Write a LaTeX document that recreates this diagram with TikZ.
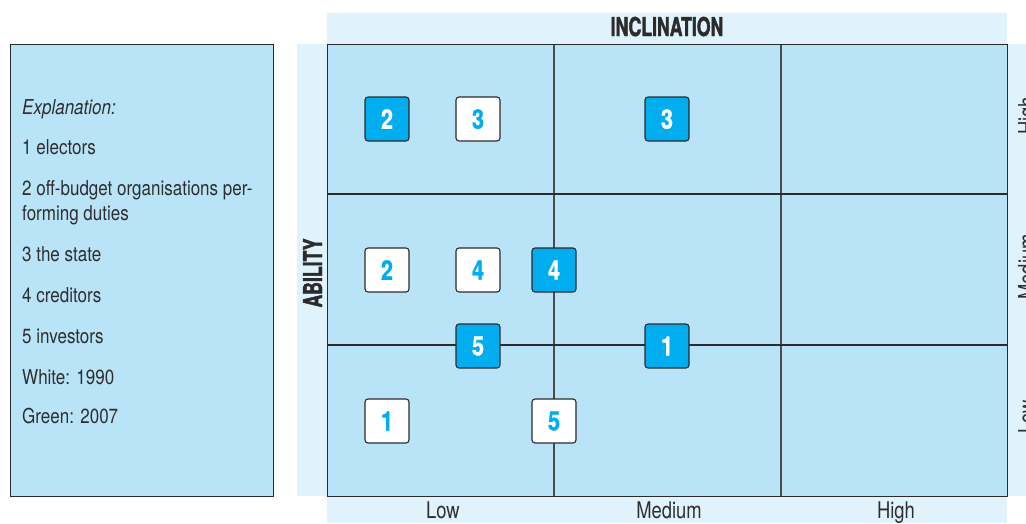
\documentclass[tikz,border=0pt]{standalone}
\usepackage{fontspec}
\setmainfont{TeX Gyre Heros}[FakeStretch=0.83]
\newfontfamily\labelfont{TeX Gyre Heros}[FakeStretch=0.80]
\newfontfamily\heavyfont{TeX Gyre Heros}[FakeStretch=0.68, BoldFeatures={FakeBold=1.6}]
\newfontfamily\numfont{TeX Gyre Heros}[FakeStretch=0.80, BoldFeatures={FakeBold=1.0}]
\definecolor{cellblue}{HTML}{B9E4F8}
\definecolor{stripblue}{HTML}{E0F2FB}
\definecolor{cyanbox}{HTML}{00AEEF}
\definecolor{linedark}{HTML}{2B2B2B}
\definecolor{textdark}{HTML}{2E2E2E}
\begin{document}
\begin{tikzpicture}[x=1pt,y=-1pt,
  expl/.style={anchor=base west, inner sep=0pt, text=textdark, font=\fontsize{20.5}{24}\selectfont},
  axislbl/.style={inner sep=0pt, text=textdark, font=\labelfont\fontsize{23}{27}\selectfont},
  axistitle/.style={inner sep=0pt, text=linedark, font=\heavyfont\bfseries\fontsize{26}{30}\selectfont},
  tag/.style={draw=linedark, line width=1.1pt, rounded corners=3pt, minimum width=44pt, minimum height=44pt, inner sep=0pt, font=\numfont\bfseries\fontsize{27}{30}\selectfont},
  newtag/.style={tag, fill=cyanbox, text=white},
  oldtag/.style={tag, fill=white, text=cyanbox},
  vline/.style={draw=linedark!85, line width=1.3pt},
  hline/.style={draw=linedark, line width=2pt}
]
\useasboundingbox (0,0) rectangle (1026,523);
\fill[white] (0,0) rectangle (1026,523);
% strips
\fill[stripblue] (327,13) rectangle (1007,44);
\fill[stripblue] (297,44) rectangle (327,496);
\fill[stripblue] (327,496) rectangle (1007,523);
\fill[stripblue] (1007,44) rectangle (1026,496);
% explanation box
\draw[fill=cellblue, draw=linedark, line width=1pt] (10,44) rectangle (273,496);
\node[expl] (e0) at (22,114) {\itshape Explanation:};
\node[expl] (e1) at (22,154) {1 electors};
\node[expl] (e2) at (22,195) {2 off-budget organisations per-};
\node[expl] (e2b) at (22,220) {forming duties};
\node[expl] (e3) at (22,261) {3 the state};
\node[expl] (e4) at (22,302) {4 creditors};
\node[expl] (e5) at (22,343) {5 investors};
\node[expl] (e6) at (22,384) {White: 1990};
\node[expl] (e7) at (22,423) {Green: 2007};
% grid
\fill[cellblue] (327,44) rectangle (1007,496);
\draw[vline] (554,44) -- (554,496);
\draw[vline] (781,44) -- (781,496);
\draw[hline] (327,194) -- (1007,194);
\draw[hline] (327,345) -- (1007,345);
\draw[draw=linedark, line width=1pt] (327,44) rectangle (1007,496);
% axis titles
\node[axistitle, anchor=base] (incl) at (667,36) {INCLINATION};
\node[axistitle, anchor=base, rotate=90] (abil) at (322,273) {ABILITY};
% axis labels
\node[axislbl, anchor=base] (xlow) at (443,518) {Low};
\node[axislbl, anchor=base] (xmed) at (669,518) {Medium};
\node[axislbl, anchor=base] (xhigh) at (896,518) {High};
\node[axislbl, anchor=north, rotate=90] (yhigh) at (1018,116) {High};
\node[axislbl, anchor=north, rotate=90] (ymed) at (1018,267) {Medium};
\node[axislbl, anchor=north, rotate=90] (ylow) at (1018,417) {Low};
% tags
\node[newtag] (g2) at (387,119) {2};
\node[oldtag] (w3) at (478,119) {3};
\node[newtag] (g3) at (667,119) {3};
\node[oldtag] (w2) at (387,270) {2};
\node[oldtag] (w4) at (478,270) {4};
\node[newtag] (g4) at (554,270) {4};
\node[newtag] (g5) at (478,346) {5};
\node[newtag] (g1) at (667,346) {1};
\node[oldtag] (w1) at (387,421) {1};
\node[oldtag] (w5) at (554,421) {5};
\end{tikzpicture}
\end{document}
